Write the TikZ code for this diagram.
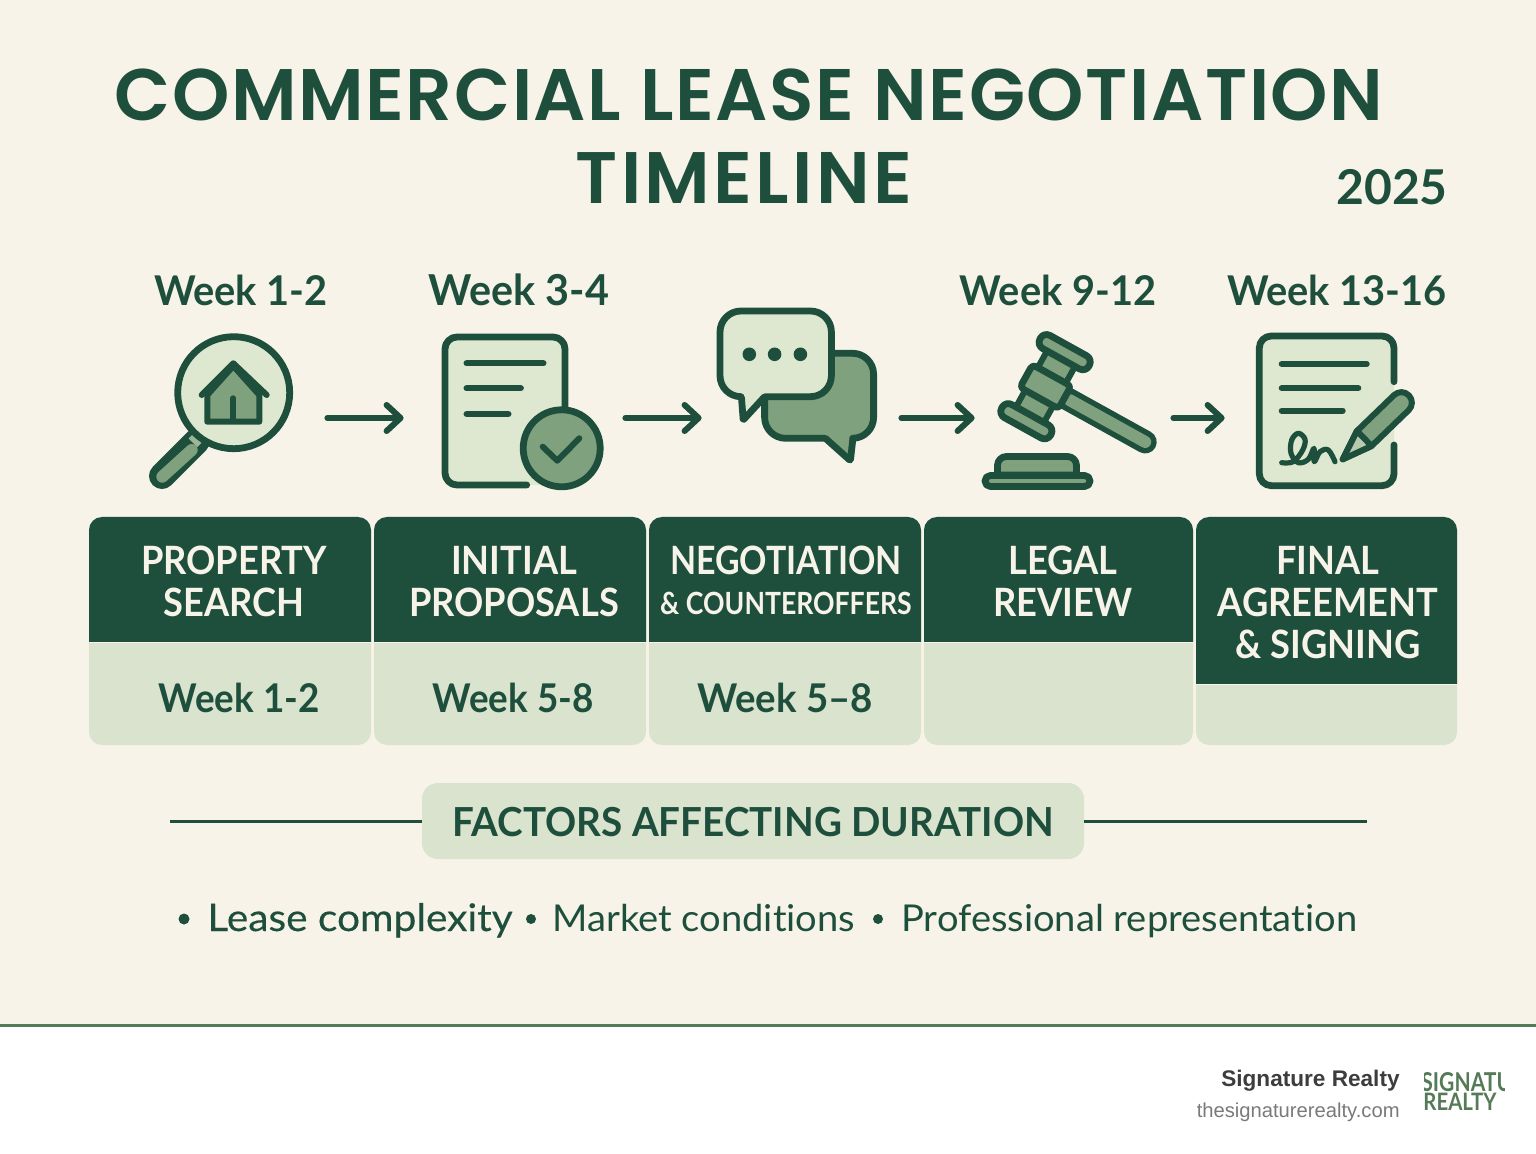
\documentclass[tikz,border=0pt]{standalone}
\usepackage{fontspec}
\usetikzlibrary{arrows.meta}
\setmainfont{Lato}[Ligatures=NoCommon]
\newfontfamily\TitleFont{Poppins SemiBold}[LetterSpace=2.2]
\newfontfamily\TitleWideFont{Poppins SemiBold}[LetterSpace=4.5]
\newfontfamily\FooterFont{Liberation Sans}
\newfontfamily\HeadFont{Lato}[FakeStretch=0.93]
\newfontfamily\NarrowFont{Lato}[FakeStretch=0.87]
\newfontfamily\LogoFont{Lato}[FakeStretch=0.81]
\newfontfamily\LogoWideFont{Lato}[FakeStretch=0.85]
\newfontfamily\WeekFont{Lato}[FakeStretch=0.97]
\newfontfamily\FactorsFont{Lato}[FakeStretch=0.965]
\newfontfamily\LeaseFont{Lato}[FakeBold=0.3, FakeStretch=1.07, Ligatures=NoCommon]
\newfontfamily\ListFont{Lato}[FakeStretch=1.03, Ligatures=NoCommon]
\definecolor{PageFill}{HTML}{F7F3E8}
\definecolor{ForestDark}{HTML}{1E4F3D}
\definecolor{CardLight}{HTML}{D9E3CD}
\definecolor{IconLight}{HTML}{DEE7D0}
\definecolor{IconMid}{HTML}{7FA17E}
\definecolor{FooterGreen}{HTML}{557A58}
\tikzset{
	iconbox/.style={inner sep=0pt, minimum height=40pt},
	flowarrow/.style={draw=ForestDark, line width=3pt, line cap=round, -{Straight Barb[length=7pt,width=13pt,round]}},
	iconline/.style={draw=ForestDark, line width=3.4pt, line cap=round, line join=round},
	iconlight/.style={iconline, fill=IconLight},
	iconmid/.style={iconline, fill=IconMid},
	weektop/.style={anchor=base, text=ForestDark, font=\fontsize{20.5}{24}\selectfont\WeekFont\bfseries},
	weekcard/.style={anchor=base, text=ForestDark, font=\fontsize{19.8}{24}\selectfont\HeadFont\bfseries},
	headtext/.style={align=center, inner sep=0pt, text=PageFill, font=\fontsize{19.5}{21}\selectfont\HeadFont\bfseries},
	listtext/.style={anchor=base west, inner sep=0pt, text=ForestDark, font=\fontsize{18.5}{22}\selectfont\ListFont},
	cardround/.style={rounded corners=6.5pt}
}
\begin{document}
\begin{tikzpicture}[x=0.5pt, y=-0.5pt]
	\pgfmathsetmacro{\TopEdge}{517}
	\pgfmathsetmacro{\SplitEdge}{642}
	\pgfmathsetmacro{\BottomEdge}{745}
	\useasboundingbox (0,0) rectangle (1536,1154);
	\fill[white] (0,0) rectangle (1536,1154);
	\fill[PageFill] (0,0) rectangle (1536,1025);
	\fill[FooterGreen] (0,1024) rectangle (1536,1027);

	\node[anchor=base, text=ForestDark, font=\fontsize{36.5}{40}\selectfont\TitleFont] (TitleOne) at (749,121) {COMMERCIAL LEASE NEGOTIATION};
	\node[anchor=base, text=ForestDark, font=\fontsize{36.5}{40}\selectfont\TitleWideFont] (TitleTwo) at (744,204) {TIMELINE};
	\node[anchor=base, text=ForestDark, font=\fontsize{24}{28}\selectfont\bfseries] (YearLabel) at (1392,205) {2025};

	\node[weektop] (WeekOne) at (241,306) {Week 1-2};
	\node[weektop, font=\fontsize{21.3}{24}\selectfont\WeekFont\bfseries] (WeekTwo) at (519,306) {Week 3-4};
	\node[weektop] (WeekFour) at (1058,306) {Week 9-12};
	\node[weektop] (WeekFive) at (1337,306) {Week 13-16};

	\node[iconbox, minimum width=71.5pt] (SearchIcon) at (221.5,418) {};
	\node[iconbox, minimum width=81pt] (ProposalIcon) at (522,418) {};
	\node[iconbox, minimum width=79.5pt] (ChatIcon) at (796.5,418) {};
	\node[iconbox, minimum width=79.5pt] (GavelIcon) at (1077.5,418) {};
	\node[iconbox, minimum width=78.5pt] (SignIcon) at (1335.5,418) {};

	\draw[flowarrow, shorten <=17pt, shorten >=18.5pt] (SearchIcon) -- (ProposalIcon);
	\draw[flowarrow, shorten <=11pt, shorten >=7.5pt] (ProposalIcon) -- (ChatIcon);
	\draw[flowarrow, shorten <=12.5pt, shorten >=11.5pt] (ChatIcon) -- (GavelIcon);
	\draw[flowarrow, shorten <=8pt, shorten >=16pt] (GavelIcon) -- (SignIcon);

	\draw[ForestDark, line width=13pt, line cap=round] (197,441) -- (162,476);
	\draw[IconMid, line width=6pt, line cap=round] (191.7,450) -- (162.3,476.7);
	\draw[IconMid!70!IconLight, line width=3pt] (190.7,436.4) -- (199.3,445);
	\draw[iconlight] (233.7,392.7) circle (56);
	\filldraw[iconmid, line width=3pt] (207.3,395) -- (207.3,421.7) -- (259.3,421.7) -- (259.3,395) -- (233.3,366) -- cycle;
	\draw[iconline, line width=3pt] (201.7,395) -- (233.3,363.3) -- (266.7,395);
	\draw[iconline, line width=3pt] (233.3,398.3) -- (233.3,419);

	\fill[IconLight, rounded corners=6pt] (445,337) rectangle (565,485);
	\draw[iconline] (526.7,485) -- (457,485) [rounded corners=6pt] -- (445,485) -- (445,337) -- (565,337) [sharp corners] -- (565,410);
	\draw[iconline, line width=3.2pt] (466.7,363.3) -- (543.3,363.3);
	\draw[iconline, line width=3.2pt] (466.7,388.3) -- (520.7,388.3);
	\draw[iconline, line width=3.2pt] (466.7,414) -- (508.3,414);
	\draw[iconmid] (561.7,448.3) circle (38.5);
	\draw[iconline, line width=3pt] (542.7,446.7) -- (557.3,460.7) -- (579.3,438.3);

	\filldraw[iconmid] (820,353.3) [rounded corners=10.5pt] -- (873.6,353.3) -- (873.6,438.3) [rounded corners=0.5pt] -- (852.9,438.3) -- (850.4,460.7) -- (825.4,438.3) [rounded corners=10.5pt] -- (764.6,438.3) -- (764.6,353.3) -- cycle;
	\filldraw[iconlight] (780,311) [rounded corners=10.5pt] -- (831.4,311) -- (831.4,396.7) [rounded corners=0.5pt] -- (764.6,396.7) -- (743.2,420) -- (741.4,396.7) [rounded corners=10.5pt] -- (720,396.7) -- (720,311) -- cycle;
	\fill[ForestDark] (749.3,354.3) circle (6.8) (774.6,354.3) circle (6.8) (800.4,354.3) circle (6.8);

	\begin{scope}[shift={(1045.5,386.7)}, rotate=-29]
		\draw[ForestDark, line width=11.5pt, line cap=round] (20,0) -- (114,0);
		\draw[IconMid, line width=6pt, line cap=round] (28,0) -- (114,0);
		\filldraw[iconmid, line width=3pt] (-16,-33) rectangle (16,33);
		\filldraw[iconmid, rounded corners=2pt] (-22,-13) rectangle (22,13);
		\filldraw[iconmid, rounded corners=3.5pt] (-28,-47) rectangle (28,-32);
		\filldraw[iconmid, rounded corners=3.5pt] (-28,32) rectangle (28,47);
	\end{scope}
	\filldraw[iconmid] (997.5,475) [rounded corners=4.5pt] -- (997.5,456.5) -- (1076.5,456.5) [sharp corners] -- (1076.5,475) -- cycle;
	\filldraw[iconmid, rounded corners=2.7pt] (985,475.5) rectangle (1090,486.5);

	\fill[IconLight, rounded corners=6pt] (1259.3,336) rectangle (1394,485.7);
	\draw[iconline] (1394,381.7) [rounded corners=6pt] -- (1394,336) -- (1259.3,336) -- (1259.3,485.7) -- (1394,485.7) [sharp corners] -- (1394,445);
	\draw[iconline, line width=3pt] (1281.7,364) -- (1366.7,364);
	\draw[iconline, line width=3pt] (1281.7,388.3) -- (1358.3,388.3);
	\draw[iconline, line width=3pt] (1281.7,410.7) -- (1342.7,410.7);
	\draw[iconline, line width=2.6pt] plot[smooth, tension=0.6] coordinates {(1281.7,462.7) (1293.3,461.7) (1302.7,450) (1305,439.3) (1298.3,433.3) (1291.7,440) (1291,453.3) (1298.3,462.7) (1308.3,459.3) (1314,448.3) (1314.3,461.7) (1320,451.7) (1328.3,450) (1335,461.7)};
	\begin{scope}[shift={(1342.7,459.3)}, rotate=44]
		\filldraw[iconmid, line width=3pt] (0,0) -- (30,-10.5) [rounded corners=5.2pt] -- (92,-10.5) -- (92,10.5) [sharp corners] -- (30,10.5) -- cycle;
		\filldraw[iconline, fill=IconLight!60!IconMid, line width=3pt] (0,0) -- (30,-10.5) -- (30,10.5) -- cycle;
	\end{scope}

	\fill[CardLight, cardround] (89,\TopEdge) rectangle (371,\BottomEdge);
	\fill[CardLight, cardround] (374,\TopEdge) rectangle (646,\BottomEdge);
	\fill[CardLight, cardround] (649,\TopEdge) rectangle (921,\BottomEdge);
	\fill[CardLight, cardround] (924,\TopEdge) rectangle (1193,\BottomEdge);
	\fill[CardLight, cardround] (1196,\TopEdge) rectangle (1457,\BottomEdge);
	\fill[ForestDark] (89,\SplitEdge) [cardround] -- (89,\TopEdge) -- (371,\TopEdge) [sharp corners] -- (371,\SplitEdge) -- cycle;
	\fill[ForestDark] (374,\SplitEdge) [cardround] -- (374,\TopEdge) -- (646,\TopEdge) [sharp corners] -- (646,\SplitEdge) -- cycle;
	\fill[ForestDark] (649,\SplitEdge) [cardround] -- (649,\TopEdge) -- (921,\TopEdge) [sharp corners] -- (921,\SplitEdge) -- cycle;
	\fill[ForestDark] (924,\SplitEdge) [cardround] -- (924,\TopEdge) -- (1193,\TopEdge) [sharp corners] -- (1193,\SplitEdge) -- cycle;
	\fill[ForestDark] (1196,684) [cardround] -- (1196,\TopEdge) -- (1457,\TopEdge) [sharp corners] -- (1457,684) -- cycle;
	\draw[PageFill, line width=0.5pt] (89,642.5) -- (371,642.5) (374,642.5) -- (646,642.5) (649,642.5) -- (921,642.5) (924,642.5) -- (1193,642.5) (1196,684.5) -- (1457,684.5);

	\node[headtext] (PropertyHead) at (234,581.5) {PROPERTY\\SEARCH};
	\node[headtext] (InitialHead) at (514,581.5) {INITIAL\\PROPOSALS};
	\node[headtext, font=\fontsize{19.5}{21}\selectfont\NarrowFont\bfseries] (NegotiationHead) at (786,580) {NEGOTIATION\\[-1pt]{\fontsize{15.3}{21}\selectfont \& COUNTEROFFERS}};
	\node[headtext] (LegalHead) at (1063,581.5) {LEGAL\\REVIEW};
	\node[headtext] (FinalHead) at (1328,602.5) {FINAL\\AGREEMENT\\\& SIGNING};

	\node[weekcard] (CardWeekOne) at (239,712) {Week 1-2};
	\node[weekcard] (CardWeekTwo) at (513,712) {Week 5-8};
	\node[weekcard, font=\fontsize{19.8}{24}\selectfont\WeekFont\bfseries] (CardWeekThree) at (785,712) {Week 5–8};

	\node[fill=CardLight, rounded corners=8pt, inner sep=0pt, minimum width=331pt, minimum height=38pt] (FactorsPill) at (753,821) {};
	\node[anchor=base, text=ForestDark, font=\fontsize{20}{24}\selectfont\FactorsFont\bfseries] (FactorsLabel) at (753,836) {FACTORS AFFECTING DURATION};
	\coordinate (RuleLeft) at (170,821);
	\coordinate (RuleRight) at (1367,821);
	\draw[ForestDark, line width=1.5pt] (RuleLeft) -- (FactorsPill);
	\draw[ForestDark, line width=1.5pt] (FactorsPill) -- (RuleRight);

	\fill[ForestDark] (184,919) circle (5.5) (531,919) circle (5) (878,919) circle (5);
	\node[listtext, font=\fontsize{19}{22}\selectfont\LeaseFont] (FactorLease) at (207,931) {Lease complexity};
	\node[listtext] (FactorMarket) at (552,931) {Market conditions};
	\node[listtext] (FactorAgent) at (901,931) {Professional representation};

	\node[anchor=base east, inner sep=0pt, text=black!76, font=\fontsize{11.3}{14}\selectfont\FooterFont\bfseries] (BrandName) at (1400,1086) {Signature Realty};
	\node[anchor=base east, inner sep=0pt, text=black!52, font=\fontsize{10.1}{12}\selectfont\FooterFont] (BrandSite) at (1400,1117) {thesignaturerealty.com};
	\begin{scope}
		\clip (1424,1068) rectangle (1504,1116);
		\node[anchor=base west, inner sep=0pt, text=FooterGreen, font=\fontsize{13}{14}\selectfont\LogoFont\bfseries] (LogoTop) at (1421,1091) {SIGNATURE};
		\node[anchor=base west, inner sep=0pt, text=FooterGreen, font=\fontsize{12}{14}\selectfont\LogoWideFont\bfseries] (LogoBottom) at (1423,1110.5) {REALTY};
	\end{scope}
\end{tikzpicture}
\end{document}
